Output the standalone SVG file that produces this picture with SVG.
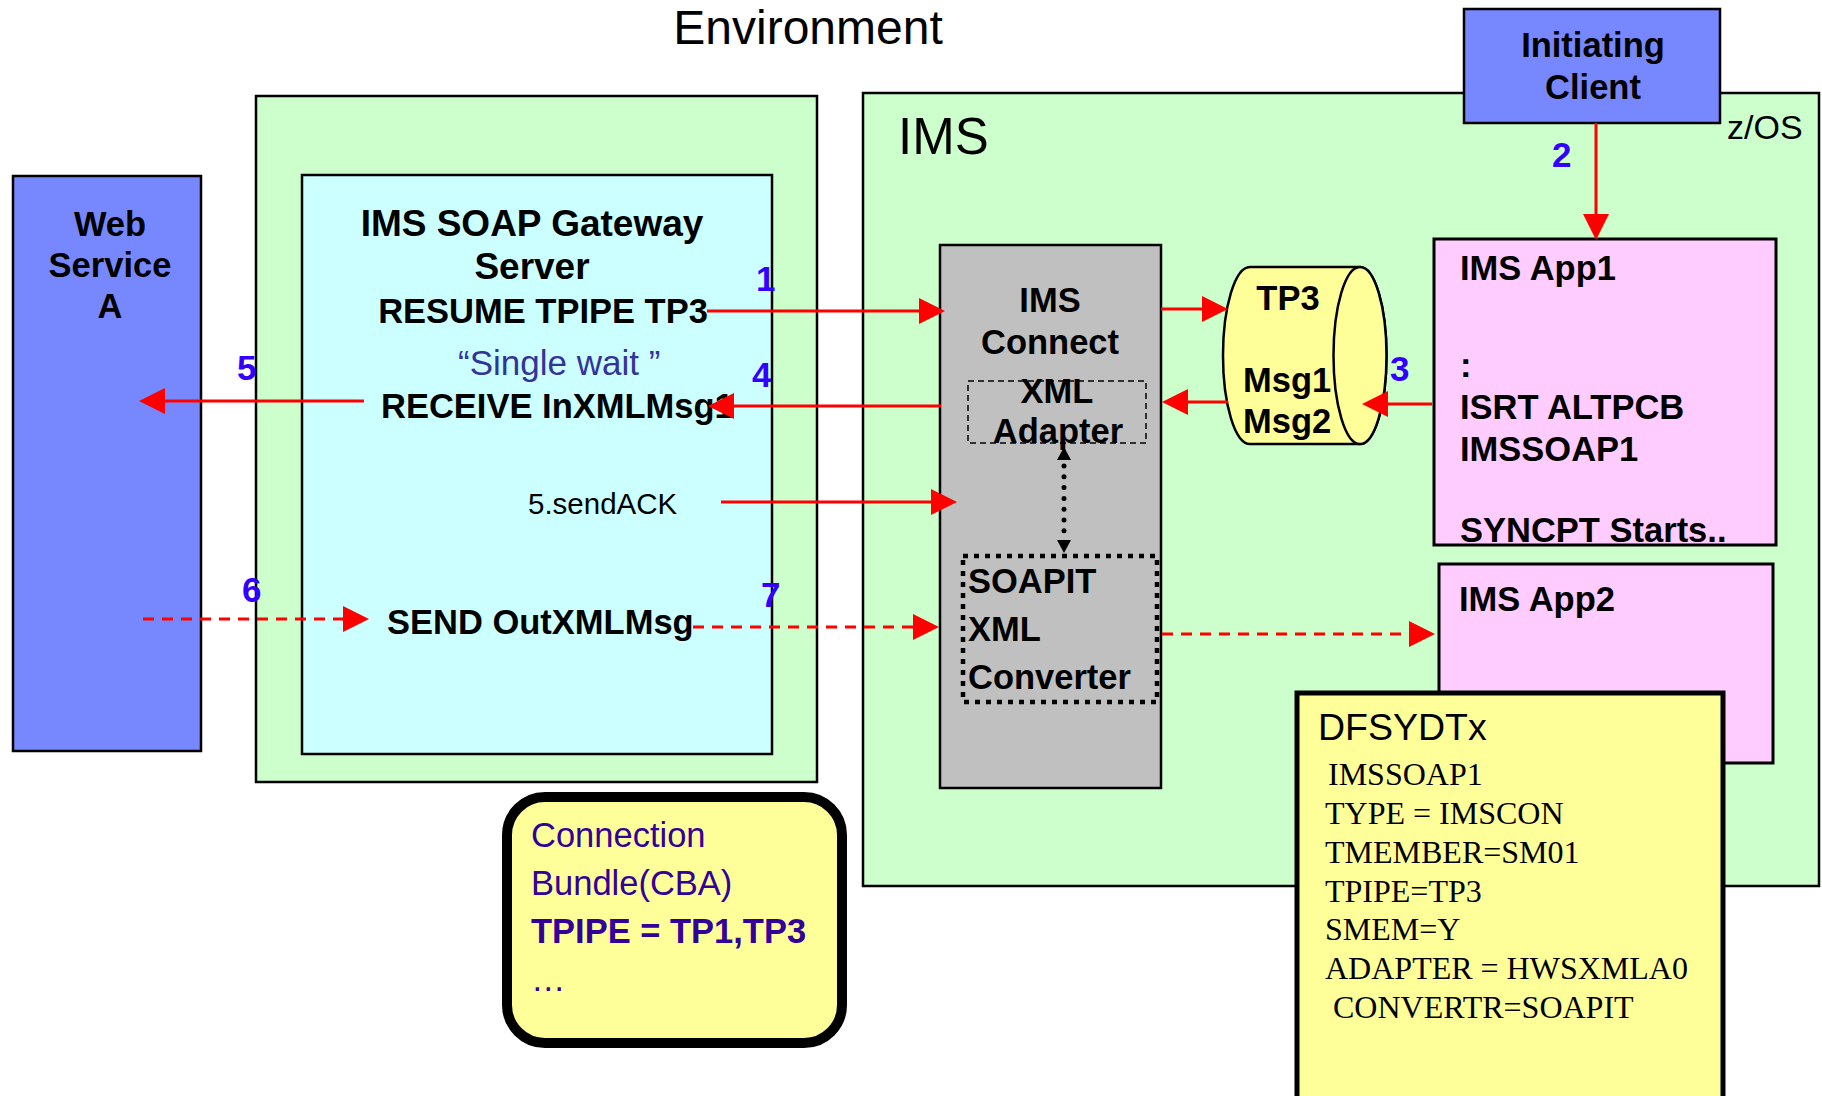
<svg xmlns="http://www.w3.org/2000/svg" width="1822" height="1096" viewBox="0 0 1822 1096">
<style>
.sans{font-family:"Liberation Sans",Arial,sans-serif}
.b{font-family:"Liberation Sans",Arial,sans-serif;font-weight:bold;font-size:34.5px;fill:#000}
.t{font-size:37px}
.num{font-family:"Liberation Sans",Arial,sans-serif;font-weight:bold;font-size:35px;fill:#3300ff}
.tm{font-family:"Liberation Serif","Times New Roman",serif;font-size:32px;fill:#000}
.cb{font-family:"Liberation Sans",Arial,sans-serif;font-size:34.5px;fill:#330099}
.box{stroke:#000;stroke-width:2.5}
.red{fill:none;stroke:#ff0000;stroke-width:3}
.dash{stroke-dasharray:11 8}
</style>
<defs>
<marker id="ah" markerUnits="userSpaceOnUse" viewBox="0 -13 26 26" markerWidth="26" markerHeight="26" refX="0" refY="0" orient="auto">
<path d="M0,-13 L26,0 L0,13 z" fill="#ff0000"/>
</marker>
<marker id="sh" markerUnits="userSpaceOnUse" viewBox="0 -7 13 14" markerWidth="13" markerHeight="14" refX="0" refY="0" orient="auto">
<path d="M0,-7 L13,0 L0,7 z" fill="#000"/>
</marker>
</defs>
<rect width="1822" height="1096" fill="#fff"/>

<g id="title"><text class="sans" x="808" y="44" font-size="48" text-anchor="middle">Environment</text></g>

<g id="web-service">
<rect class="box" x="13" y="176" width="188" height="575" fill="#7788ff"/>
<text class="b" x="110" y="236" text-anchor="middle">Web</text>
<text class="b" x="110" y="277" text-anchor="middle">Service</text>
<text class="b" x="110" y="318" text-anchor="middle">A</text>
</g>

<g id="gateway-env">
<rect class="box" x="256" y="96" width="561" height="686" fill="#ccffcc"/>
</g>

<g id="gateway-server">
<rect class="box" x="302" y="175" width="470" height="579" fill="#ccffff"/>
<text class="b t" x="532" y="236" text-anchor="middle">IMS SOAP Gateway</text>
<text class="b t" x="532" y="279" text-anchor="middle">Server</text>
<text class="b" x="543" y="323" text-anchor="middle">RESUME TPIPE TP3</text>
<text class="sans" x="458" y="375" font-size="35" fill="#333399">“Single wait ”</text>
<text class="b" x="381" y="418">RECEIVE InXMLMsg1</text>
<text class="sans" x="528" y="514" font-size="29.5">5.sendACK</text>
<text class="b" x="387" y="634">SEND OutXMLMsg</text>
</g>

<g id="ims">
<rect class="box" x="863" y="93" width="956" height="793" fill="#ccffcc"/>
<text class="sans" x="898" y="154" font-size="51">IMS</text>
<text class="sans" x="1727" y="139" font-size="34">z/OS</text>
</g>

<g id="initiating-client">
<rect class="box" x="1464" y="9" width="256" height="114" fill="#7788ff"/>
<text class="b" x="1593" y="57" text-anchor="middle">Initiating</text>
<text class="b" x="1593" y="99" text-anchor="middle">Client</text>
</g>

<g id="ims-connect">
<rect class="box" x="940" y="245" width="221" height="543" fill="#c0c0c0"/>
<text class="b" x="1050" y="312" text-anchor="middle">IMS</text>
<text class="b" x="1050" y="354" text-anchor="middle">Connect</text>
<rect x="968" y="381" width="178" height="62" fill="none" stroke="#000" stroke-width="1.5" stroke-dasharray="6 4"/>
<text class="b" x="1057" y="403" text-anchor="middle">XML</text>
<text class="b" x="1058" y="443" text-anchor="middle">Adapter</text>
<rect x="963" y="556" width="194" height="146" fill="none" stroke="#000" stroke-width="4.5" stroke-dasharray="5 6"/>
<text class="b" x="968" y="593">SOAPIT</text>
<text class="b" x="968" y="641">XML</text>
<text class="b" x="968" y="689">Converter</text>
</g>

<g id="tp3-queue">
<path d="M1250,267 L1360,267 A26.5,88.5 0 0 1 1360,444 L1250,444 A27,88.5 0 0 1 1250,267 z" fill="#ffff99" stroke="#000" stroke-width="2.5"/>
<ellipse cx="1360" cy="355.5" rx="26.5" ry="88.5" fill="#ffff99" stroke="#000" stroke-width="2.5"/>
<text class="b" x="1288" y="310" text-anchor="middle">TP3</text>
<text class="b" x="1243" y="392">Msg1</text>
<text class="b" x="1243" y="433">Msg2</text>
</g>

<g id="ims-app1">
<rect x="1434" y="239" width="342" height="306" fill="#ffccff" stroke="#000" stroke-width="3"/>
<text class="b" x="1460" y="280">IMS App1</text>
<text class="b" x="1460" y="377">:</text>
<text class="b" x="1460" y="419">ISRT ALTPCB</text>
<text class="b" x="1460" y="461">IMSSOAP1</text>
<text class="b" x="1460" y="542">SYNCPT Starts..</text>
</g>

<g id="ims-app2">
<rect x="1439" y="564" width="334" height="199" fill="#ffccff" stroke="#000" stroke-width="3"/>
<text class="b" x="1459" y="611">IMS App2</text>
</g>

<g id="dfsydtx">
<rect x="1297" y="693" width="426" height="420" fill="#ffff99" stroke="#000" stroke-width="5"/>
<text class="sans" x="1318" y="740" font-size="37.5">DFSYDTx</text>
<text class="tm" x="1328" y="785">IMSSOAP1</text>
<text class="tm" x="1325" y="824">TYPE = IMSCON</text>
<text class="tm" x="1325" y="863">TMEMBER=SM01</text>
<text class="tm" x="1325" y="902">TPIPE=TP3</text>
<text class="tm" x="1325" y="940">SMEM=Y</text>
<text class="tm" x="1325" y="979">ADAPTER = HWSXMLA0</text>
<text class="tm" x="1333" y="1018">CONVERTR=SOAPIT</text>
</g>

<g id="connection-bundle">
<rect x="507" y="797" width="335" height="246" rx="38" ry="38" fill="#ffff99" stroke="#000" stroke-width="10"/>
<text class="cb" x="531" y="847">Connection</text>
<text class="cb" x="531" y="895">Bundle(CBA)</text>
<text class="cb" x="531" y="943" font-weight="bold">TPIPE = TP1,TP3</text>
<text class="cb" x="531" y="991">…</text>
</g>

<g id="connectors">
<path class="red" d="M707,311 L919,311" marker-end="url(#ah)"/>
<path class="red" d="M941,406 L734,406" marker-end="url(#ah)"/>
<path class="red" d="M364,401 L165,401" marker-end="url(#ah)"/>
<path class="red" d="M721,502 L931,502" marker-end="url(#ah)"/>
<path class="red" d="M1161,309 L1202,309" marker-end="url(#ah)"/>
<path class="red" d="M1228,402 L1188,402" marker-end="url(#ah)"/>
<path class="red" d="M1432,404 L1388,404" marker-end="url(#ah)"/>
<path class="red" d="M1596,123 L1596,214" stroke-width="2.5" marker-end="url(#ah)"/>
<path class="red dash" d="M143,619 L343,619" marker-end="url(#ah)"/>
<path class="red dash" d="M693,627 L913,627" marker-end="url(#ah)"/>
<path class="red dash" d="M1162,634 L1409,634" marker-end="url(#ah)"/>
<path d="M1064,466 L1064,532" fill="none" stroke="#000" stroke-width="5" stroke-linecap="round" stroke-dasharray="0 10.8"/>
<path d="M1064,461 L1064,460" fill="none" stroke="none" marker-end="url(#sh)"/>
<path d="M1064,539 L1064,540" fill="none" stroke="none" marker-end="url(#sh)"/>
</g>

<g id="numbers">
<text class="num" x="756" y="291">1</text>
<text class="num" x="1552" y="167">2</text>
<text class="num" x="1390" y="381">3</text>
<text class="num" x="752" y="387">4</text>
<text class="num" x="237" y="380">5</text>
<text class="num" x="242" y="602">6</text>
<text class="num" x="761" y="607">7</text>
</g>
</svg>
